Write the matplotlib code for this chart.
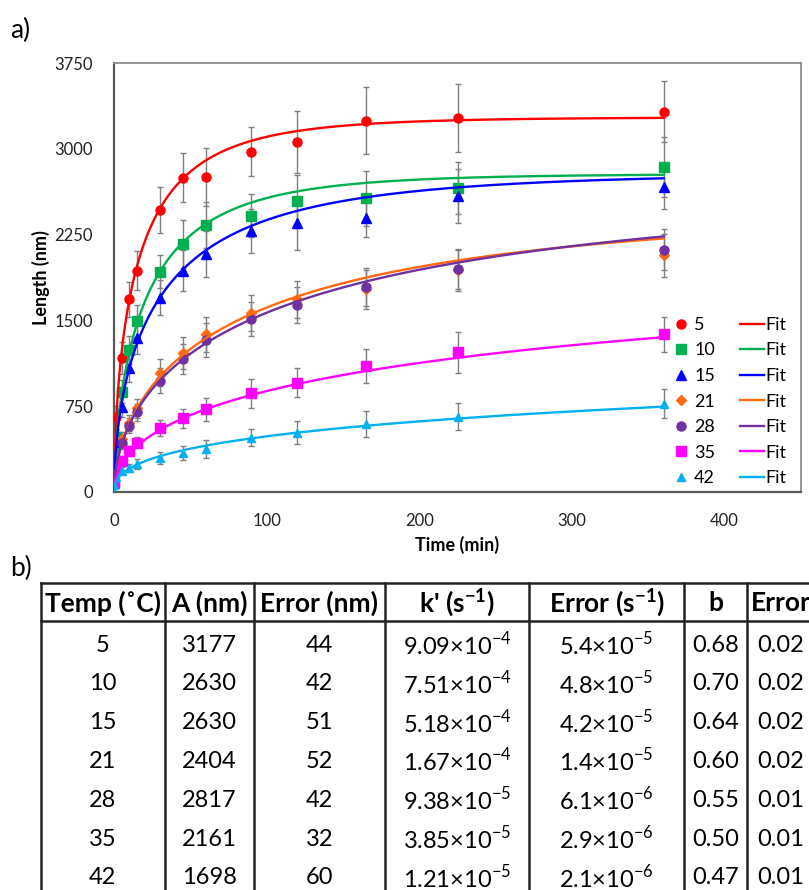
import numpy as np
import matplotlib.pyplot as plt

plt.rcParams['font.family'] = ['Lato', 'DejaVu Sans']
plt.rcParams['mathtext.fontset'] = 'custom'
plt.rcParams['mathtext.rm'] = 'Lato'
plt.rcParams['mathtext.bf'] = 'Lato:bold'

# ---- panel a) data (read from the picture) ----
t_min = [0, 1, 5, 10, 15, 30, 45, 60, 90, 120, 165, 225, 360]
temps = ["5", "10", "15", "21", "28", "35", "42"]
colors = ["#FF0000", "#00B050", "#0000FF", "#FF6A10", "#7030A0", "#FF00FF", "#00B0F0"]
markers = ["o", "s", "^", "D", "o", "s", "^"]
msizes = [6.5, 6.5, 6.5, 4.8, 6.5, 6.5, 5.2]

L5 = [446, 653, 1174, 1684, 1935, 2465, 2748, 2753, 2975, 3062, 3246, 3272, 3325]
L10 = [338, 478, 877, 1241, 1495, 1926, 2168, 2334, 2415, 2541, 2567, 2657, 2841]
L15 = [309, 440, 746, 1081, 1349, 1699, 1935, 2078, 2281, 2349, 2393, 2590, 2663]
L21 = [190, 300, 465, 605, 730, 1043, 1212, 1378, 1567, 1684, 1772, 1940, 2069]
L28 = [170, 274, 431, 580, 696, 973, 1163, 1329, 1512, 1635, 1789, 1946, 2118]
L35 = [81, 192, 271, 358, 431, 556, 644, 723, 862, 955, 1104, 1221, 1378]
L42 = [61, 134, 186, 207, 245, 300, 338, 376, 475, 519, 594, 658, 772]

E5 = [60, 100, 140, 154, 170, 197, 214, 256, 216, 270, 294, 296, 268]
E10 = [40, 60, 100, 120, 140, 146, 210, 200, 190, 230, 240, 230, 265]
E15 = [40, 60, 90, 120, 140, 150, 180, 200, 190, 230, 160, 236, 190]
E21 = [30, 40, 60, 70, 80, 120, 140, 150, 157, 160, 170, 179, 190]
E28 = [30, 40, 55, 65, 75, 110, 130, 150, 150, 155, 165, 175, 180]
E35 = [20, 30, 40, 45, 50, 70, 83, 98, 124, 127, 150, 179, 153]
E42 = [15, 20, 30, 35, 40, 52, 60, 79, 73, 102, 110, 118, 127]

lengths = [L5, L10, L15, L21, L28, L35, L42]
errors = [E5, E10, E15, E21, E28, E35, E42]

# fit curves L = A(1 - exp(-(k t)^b)), parameters matched to the drawn curves
fit_A = [3275, 2780, 2790, 2500, 2700, 2100, 1700]
fit_k = [0.0583, 0.043, 0.02997, 0.01062, 0.00774, 0.00297, 0.000752]  # 1/min
fit_b = [0.615, 0.65, 0.59, 0.58, 0.55, 0.50, 0.42]

# ---- panel b) table ----
col_heads = ["Temp (\u02daC)", "A (nm)", "Error (nm)", r"k' (s$^{\mathbf{-1}}$)",
             r"Error (s$^{\mathbf{-1}}$)", "b", "Error"]
A_nm = ["3177", "2630", "2630", "2404", "2817", "2161", "1698"]
A_err = ["44", "42", "51", "52", "42", "32", "60"]
k_mant = ["9.09", "7.51", "5.18", "1.67", "9.38", "3.85", "1.21"]
k_exp = [-4, -4, -4, -4, -5, -5, -5]
kerr_mant = ["5.4", "4.8", "4.2", "1.4", "6.1", "2.9", "2.1"]
kerr_exp = [-5, -5, -5, -5, -6, -6, -6]
b_vals = ["0.68", "0.70", "0.64", "0.60", "0.55", "0.50", "0.47"]
b_err = ["0.02", "0.02", "0.02", "0.02", "0.01", "0.01", "0.01"]

W, H = 809, 890
fig = plt.figure(figsize=(W / 100, H / 100), dpi=100)
ax = fig.add_axes([114 / W, 1 - 492 / H, 687 / W, 429 / H])

t_fit = np.linspace(0, 360, 400)
for i in range(len(temps)):
    ax.errorbar(t_min, lengths[i], yerr=errors[i], fmt="none", ecolor="#7F7F7F",
                elinewidth=1, capsize=2.5, capthick=1, zorder=2)
    ax.plot(t_min, lengths[i], linestyle="none", marker=markers[i], ms=msizes[i],
            color=colors[i], label=temps[i], zorder=3)
for i in range(len(temps)):
    y_fit = fit_A[i] * (1 - np.exp(-(fit_k[i] * t_fit) ** fit_b[i]))
    ax.plot(t_fit, y_fit, color=colors[i], lw=1.7, label="Fit", zorder=4)

ax.set_xlim(0, 450)
ax.set_ylim(0, 3750)
ax.set_xticks([0, 100, 200, 300, 400])
ax.set_yticks([0, 750, 1500, 2250, 3000, 3750])
ax.tick_params(length=0, labelsize=12, pad=15, labelcolor="#222222")
for s in ["left", "bottom"]:
    ax.spines[s].set_color("#595959")
    ax.spines[s].set_linewidth(1.6)
for s in ["top", "right"]:
    ax.spines[s].set_color("#8C8C8C")
    ax.spines[s].set_linewidth(1.3)
ax.set_xlabel("Time (min)", fontsize=13, fontweight="bold", labelpad=5)
ax.set_ylabel("Length (nm)", fontsize=13, fontweight="bold", labelpad=3)

ax.legend(ncol=2, loc="lower right", bbox_to_anchor=(0.995, -0.012), frameon=False,
          fontsize=13, handlelength=1.3, handletextpad=0.1, columnspacing=1.4,
          labelspacing=0.53, borderaxespad=0.2)

# overlay in pixel units for labels and the table
ov = fig.add_axes([0, 0, 1, 1], zorder=-1)
ov.set_xlim(0, W)
ov.set_ylim(H, 0)
ov.axis("off")

ov.text(10, 30, "a)", fontsize=19, va="center", ha="left")
ov.text(10, 568, "b)", fontsize=19, va="center", ha="left")

col_edges = [41, 164.7, 253.7, 385, 529.3, 684, 747, 815]
top_y, head_y = 582.7, 621
row_h = 38.8
for xe in col_edges:
    ov.plot([xe, xe], [top_y, H + 5], color="#222222", lw=1.8, clip_on=False)
for ye in [top_y, head_y]:
    ov.plot([col_edges[0], W + 5], [ye, ye], color="#222222", lw=1.8, clip_on=False)

centers = [(col_edges[j] + col_edges[j + 1]) / 2 for j in range(len(col_edges) - 1)]
for j, head in enumerate(col_heads):
    ov.text(centers[j], (top_y + head_y) / 2 + 1, head, fontsize=19, fontweight="bold",
            ha="center", va="center")

for r in range(len(temps)):
    y = head_y + 24 + r * row_h
    cells = [temps[r], A_nm[r], A_err[r],
             k_mant[r] + "\u00d710$^{%d}$" % k_exp[r],
             kerr_mant[r] + "\u00d710$^{%d}$" % kerr_exp[r],
             b_vals[r], b_err[r]]
    for j, c in enumerate(cells):
        ov.text(centers[j], y, c, fontsize=17, ha="center", va="center")

fig.savefig("out.png", dpi=100)
